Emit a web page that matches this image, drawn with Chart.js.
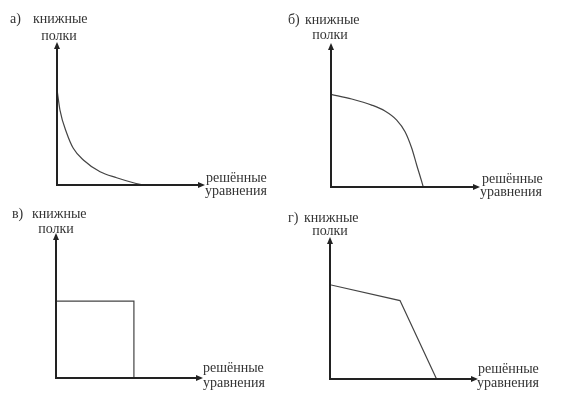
<!DOCTYPE html>
<html>
<head>
<meta charset="utf-8">
<script src="https://cdn.jsdelivr.net/npm/chart.js@4/dist/chart.umd.min.js"></script>
<style>
  html, body { margin: 0; padding: 0; background: #fff; }
  #page { position: relative; width: 571px; height: 403px; }
  .panel { position: absolute; }
</style>
</head>
<body>
<div id="page">
  <div class="panel" style="left:0;top:0;width:285px;height:201px"><canvas id="chartA"></canvas></div>
  <div class="panel" style="left:285px;top:0;width:286px;height:201px"><canvas id="chartB"></canvas></div>
  <div class="panel" style="left:0;top:201px;width:285px;height:202px"><canvas id="chartC"></canvas></div>
  <div class="panel" style="left:285px;top:201px;width:286px;height:202px"><canvas id="chartD"></canvas></div>
</div>
<script>
// labels
const panelLetters = ['а)', 'б)', 'в)', 'г)'];
const yAxisTitle = ['книжные', 'полки'];
const xAxisTitle = ['решённые', 'уравнения'];

// axis range (arrow tip = 10)
const axisMax = 10;

// а) convex curve
const curveAx = [0, 0.2, 0.66, 1.1, 1.78, 2.91, 4.03, 5.16, 5.83];
const curveAy = [6.69, 5.24, 3.62, 2.57, 1.75, 0.93, 0.51, 0.16, 0];

// б) concave curve
const curveBx = [0, 1.39, 2.73, 3.62, 4.41, 4.97, 5.42, 5.75, 6.09, 6.19];
const curveBy = [6.44, 6.11, 5.69, 5.28, 4.65, 3.84, 2.69, 1.53, 0.37, 0];

// в) right angle
const curveCx = [0, 5.3, 5.3];
const curveCy = [5.3, 5.3, 0];

// г) broken line
const curveDx = [0, 4.73, 7.2];
const curveDy = [6.64, 5.52, 0];

const textColor = '#333';
const lineColor = '#444';
const axisColor = '#222';
const font = '14px "Liberation Serif", "DejaVu Serif", serif';

const axesPlugin = {
  id: 'arrowAxes',
  afterDatasetsDraw(chart, args, opts) {
    const ctx = chart.ctx;
    const a = chart.chartArea;
    const t = opts.text;
    const head = 7, half = 3;
    ctx.save();
    ctx.strokeStyle = axisColor;
    ctx.fillStyle = axisColor;
    ctx.lineWidth = 2;
    ctx.beginPath();
    ctx.moveTo(a.left, a.top + head);
    ctx.lineTo(a.left, a.bottom);
    ctx.lineTo(a.right - head, a.bottom);
    ctx.stroke();
    // arrow heads
    ctx.beginPath();
    ctx.moveTo(a.left, a.top);
    ctx.lineTo(a.left - half, a.top + head);
    ctx.lineTo(a.left + half, a.top + head);
    ctx.closePath();
    ctx.fill();
    ctx.beginPath();
    ctx.moveTo(a.right, a.bottom);
    ctx.lineTo(a.right - head, a.bottom - half);
    ctx.lineTo(a.right - head, a.bottom + half);
    ctx.closePath();
    ctx.fill();

    ctx.fillStyle = textColor;
    ctx.font = font;
    ctx.textBaseline = 'alphabetic';
    ctx.textAlign = 'left';
    ctx.fillText(opts.letter, t.letterX, t.row1Y);
    ctx.fillText(yAxisTitle[0], t.row1X, t.row1Y);
    ctx.textAlign = 'center';
    ctx.fillText(yAxisTitle[1], t.row2X, t.row2Y);
    ctx.textAlign = 'left';
    ctx.fillText(xAxisTitle[0], t.x1X, t.x1Y);
    ctx.fillText(xAxisTitle[1], t.x2X, t.x2Y);
    ctx.restore();
  }
};

function makePanel(id, letter, xs, ys, padding, text) {
  const points = xs.map((x, i) => ({ x: x, y: ys[i] }));
  return new Chart(document.getElementById(id), {
    type: 'scatter',
    data: {
      datasets: [{
        data: points,
        showLine: true,
        borderColor: lineColor,
        borderWidth: 1.2,
        pointRadius: 0,
        cubicInterpolationMode: (xs.length > 3) ? 'monotone' : 'default',
        tension: 0,
      }]
    },
    options: {
      responsive: true,
      maintainAspectRatio: false,
      animation: false,
      layout: { padding: padding },
      scales: {
        x: { display: false, min: 0, max: axisMax },
        y: { display: false, min: 0, max: axisMax }
      },
      plugins: {
        legend: { display: false },
        tooltip: { enabled: false },
        arrowAxes: { letter: letter, text: text }
      }
    },
    plugins: [axesPlugin]
  });
}

makePanel('chartA', panelLetters[0], curveAx, curveAy,
  { left: 57, top: 42, right: 80, bottom: 16 },
  { letterX: 10, row1X: 33, row1Y: 23, row2X: 59, row2Y: 40, x1X: 206, x1Y: 182, x2X: 205, x2Y: 195 });
makePanel('chartB', panelLetters[1], curveBx, curveBy,
  { left: 46, top: 43, right: 91, bottom: 14 },
  { letterX: 3, row1X: 20, row1Y: 24, row2X: 45, row2Y: 39, x1X: 197, x1Y: 183, x2X: 195, x2Y: 196 });
makePanel('chartC', panelLetters[2], curveCx, curveCy,
  { left: 56, top: 32, right: 82, bottom: 25 },
  { letterX: 12, row1X: 32, row1Y: 17, row2X: 56, row2Y: 32, x1X: 203, x1Y: 171, x2X: 203, x2Y: 186 });
makePanel('chartD', panelLetters[3], curveDx, curveDy,
  { left: 45, top: 36, right: 93, bottom: 24 },
  { letterX: 3, row1X: 19, row1Y: 21, row2X: 45, row2Y: 34, x1X: 193, x1Y: 172, x2X: 192, x2Y: 186 });
</script>
</body>
</html>
